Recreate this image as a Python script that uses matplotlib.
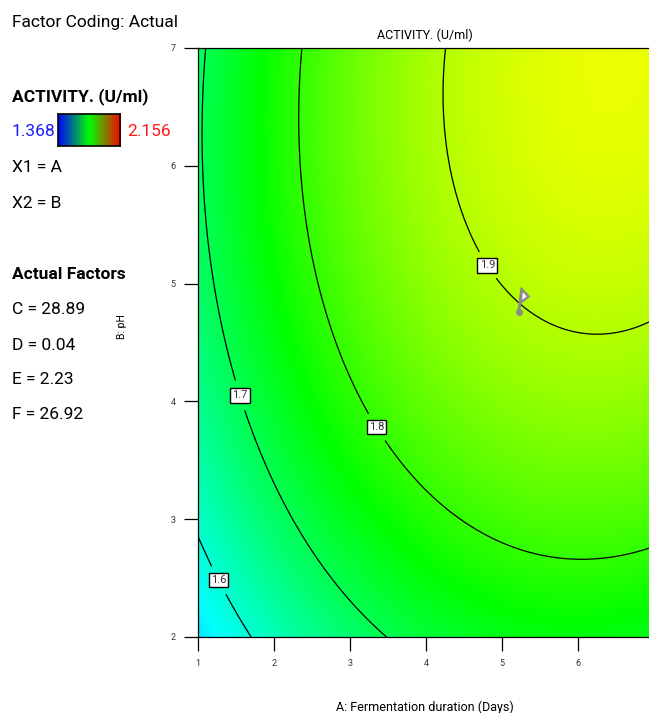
import numpy as np
import matplotlib
matplotlib.use("Agg")
import matplotlib.pyplot as plt
from matplotlib.colors import LinearSegmentedColormap

plt.rcParams['font.family'] = ['Roboto', 'DejaVu Sans']

# response model (actual factors): ACTIVITY = b0 + b1*A + b2*B + b12*A*B + b11*A^2 + b22*B^2
coef_b0 = 1.28669
coef_A = 0.095569
coef_B = 0.100786
coef_AB = 0.001739
coef_A2 = -0.00828
coef_B2 = -0.00818

a_range = [1, 7]
b_range = [2, 7]
levels = [1.6, 1.7, 1.8, 1.9]
label_pos = [(1.33, 2.5), (1.55, 4.05), (3.40, 3.80), (4.82, 5.16)]
resp_min, resp_max = 1.368, 2.156
flag_point = (5.22, 4.76)

legend_factors = ["C = 28.89", "D = 0.04", "E = 2.23", "F = 26.92"]


def activity(A, B):
    return (coef_b0 + coef_A * A + coef_B * B + coef_AB * A * B
            + coef_A2 * A ** 2 + coef_B2 * B ** 2)


fig = plt.figure(figsize=(6.49, 7.13), dpi=100)
W, H = 649, 713

ax = fig.add_axes([198 / W, 1 - 637 / H, 456 / W, 589 / H])

A = np.linspace(a_range[0], a_range[1], 300)
B = np.linspace(b_range[0], b_range[1], 300)
AA, BB = np.meshgrid(A, B)
Z = activity(AA, BB)

surf_cmap = LinearSegmentedColormap.from_list(
    "de", ["#0000ff", "#00ffff", "#00ff00", "#ffff00", "#ff0000"])
ax.imshow(Z, origin="lower", extent=[a_range[0], a_range[1], b_range[0], b_range[1]],
          aspect="auto", cmap=surf_cmap, vmin=resp_min, vmax=resp_max,
          interpolation="bilinear")

cs = ax.contour(AA, BB, Z, levels=levels, colors="black", linewidths=0.9)
lbls = ax.clabel(cs, fmt="%.1f", fontsize=8, inline=True, inline_spacing=8,
                 manual=label_pos)
for t in lbls:
    t.set_bbox(dict(facecolor="white", edgecolor="black", linewidth=1.0, pad=1.5))
    t.set_rotation(0)
    t.set_color("#333333")

# optimum flag
fx, fy = flag_point
ax.plot([fx, fx + 0.04], [fy, fy + 0.19], color="#8c8c8c", lw=2.2, solid_capstyle="round")
ax.plot(fx, fy, "o", color="#8c8c8c", ms=4)
ax.fill([fx + 0.04, fx + 0.13, fx + 0.025], [fy + 0.19, fy + 0.13, fy + 0.08],
        facecolor="white", edgecolor="#8c8c8c", lw=1.8, zorder=5)

ax.set_xlim(a_range)
ax.set_ylim(b_range)
ax.set_xticks(range(1, 7))
ax.set_yticks(range(2, 8))
ax.tick_params(direction="out", length=10, width=0.9, labelsize=6.5, pad=6,
               labelcolor="#333333")
for s in ax.spines.values():
    s.set_linewidth(0.9)

fig.text(425 / W, 1 - 35 / H, "ACTIVITY. (U/ml)", ha="center", va="center", fontsize=9)
fig.text(425 / W, 1 - 707 / H, "A: Fermentation duration (Days)", ha="center",
         va="center", fontsize=9)
fig.text(122 / W, 1 - 327 / H, "B: pH", ha="center", va="center", rotation=90, fontsize=7.5)

# legend panel
fs = 12.5
fig.text(12 / W, 1 - 22 / H, "Factor Coding: Actual", va="center", fontsize=fs)
fig.text(12 / W, 1 - 97 / H, "ACTIVITY. (U/ml)", va="center", fontsize=fs, fontweight="bold")
fig.text(12 / W, 1 - 131 / H, f"{resp_min:.3f}", va="center", fontsize=fs, color="#1a1aff")
fig.text(127 / W, 1 - 131 / H, f"{resp_max:.3f}", va="center", fontsize=fs, color="#ff1a1a")

cb_ax = fig.add_axes([58 / W, 1 - 146 / H, 62 / W, 32 / H])
bar_cmap = LinearSegmentedColormap.from_list("bar", ["#0000ff", "#00ff00", "#ff0000"])
cb_ax.imshow(np.linspace(0, 1, 256)[None, :], aspect="auto", cmap=bar_cmap)
cb_ax.set_xticks([])
cb_ax.set_yticks([])
for s in cb_ax.spines.values():
    s.set_linewidth(1.2)

fig.text(12 / W, 1 - 167 / H, "X1 = A", va="center", fontsize=fs)
fig.text(12 / W, 1 - 203 / H, "X2 = B", va="center", fontsize=fs)
fig.text(12 / W, 1 - 274 / H, "Actual Factors", va="center", fontsize=fs, fontweight="bold")
for i, s in enumerate(legend_factors):
    fig.text(12 / W, 1 - (310 + 35 * i) / H, s, va="center", fontsize=fs)

fig.savefig("out.png", dpi=100)
